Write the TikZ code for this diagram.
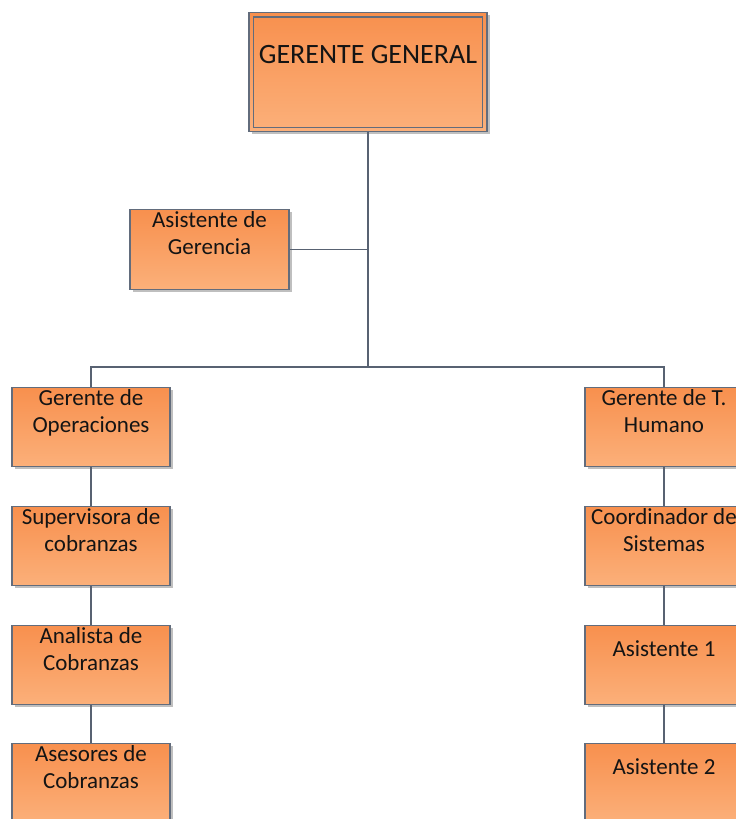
\documentclass[tikz,border=0pt]{standalone}
\usepackage{fontspec}
\setmainfont{Carlito}
\usetikzlibrary{shadows}
\definecolor{ortop}{RGB}{248,144,78}
\definecolor{orbot}{RGB}{251,176,122}
\definecolor{bordcol}{RGB}{98,108,124}
\definecolor{conncol}{RGB}{88,98,114}
\newcommand\ltop{\rule{0pt}{17pt}}
\newcommand\lone{\rule{0pt}{30.5pt}}
\tikzset{
  box/.style={draw=bordcol, line width=1.4pt, top color=ortop, bottom color=orbot,
    minimum width=158pt, minimum height=79pt, inner sep=0pt, anchor=north,
    drop shadow={shadow xshift=2.5pt, shadow yshift=-2.5pt, fill=black, opacity=0.25}},
  lbl/.style={anchor=north, inner sep=0pt, align=center,
    font=\fontsize{23}{27.5}\selectfont, text=black!92},
  connector/.style={draw=conncol, line width=1.3pt}
}
\begin{document}
\begin{tikzpicture}[x=1pt,y=-1pt]
\useasboundingbox (0,0) rectangle (736,819);
\clip (0,0) rectangle (736,819);
% top box
\node[box, minimum width=238pt, minimum height=119pt] (gg) at (368,12) {};
\draw[draw=bordcol, line width=1.4pt] ([shift={(5,5)}]gg.north west) rectangle ([shift={(-5,-5)}]gg.south east);
\node[anchor=base, inner sep=0pt, font=\fontsize{28}{34}\selectfont, text=black!92] (ggt) at ([yshift=-51pt]gg.north) {GERENTE GENERAL};
% assistant
\node[box, minimum width=159pt, minimum height=80pt] (ag) at (209.5,209) {};
\node[lbl] (agt) at ([yshift=-1pt]ag.north) {\ltop Asistente de\\Gerencia};
% left column
\node[box] (op) at (91,387) {};
\node[lbl] (opt) at ([yshift=-1pt]op.north) {\ltop Gerente de\\Operaciones};
\node[box] (sc) at (91,506) {};
\node[lbl] (sct) at ([yshift=-1pt]sc.north) {\ltop Supervisora de\\cobranzas};
\node[box] (ac) at (91,625) {};
\node[lbl] (act) at ([yshift=-1pt]ac.north) {\ltop Analista de\\Cobranzas};
\node[box] (asc) at (91,743) {};
\node[lbl] (asct) at ([yshift=-1pt]asc.north) {\ltop Asesores de\\Cobranzas};
% right column
\node[box] (th) at (664,387) {};
\node[lbl] (tht) at ([yshift=-1pt]th.north) {\ltop Gerente de T.\\Humano};
\node[box] (cs) at (664,506) {};
\node[lbl] (cst) at ([yshift=-1pt]cs.north) {\ltop Coordinador de\\Sistemas};
\node[box] (a1) at (664,625) {};
\node[lbl] (a1t) at ([yshift=-1pt]a1.north) {\lone Asistente 1};
\node[box] (a2) at (664,743) {};
\node[lbl] (a2t) at ([yshift=-1pt]a2.north) {\lone Asistente 2};
% connectors
\coordinate (j) at (gg.south |- 0,367);
\draw[connector] (gg.south) -- (j);
\draw[connector] (ag.east) -- (ag.east -| gg.south);
\draw[connector] (op.north) |- (j);
\draw[connector] (th.north) |- (j);
\draw[connector] (op.south) -- (sc.north);
\draw[connector] (sc.south) -- (ac.north);
\draw[connector] (ac.south) -- (asc.north);
\draw[connector] (th.south) -- (cs.north);
\draw[connector] (cs.south) -- (a1.north);
\draw[connector] (a1.south) -- (a2.north);
\end{tikzpicture}
\end{document}
